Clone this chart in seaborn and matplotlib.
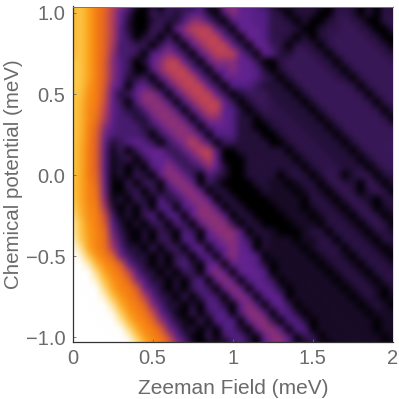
import numpy as np
import seaborn as sns
import matplotlib.pyplot as plt
from matplotlib.colors import LinearSegmentedColormap

# intensity, 0 (black) to 12 (white)
# rows: chemical potential 1.05 to -1.05 in steps of 0.05, cols: field 0 to 2 in steps of 0.05
intensity = [
    [9.5,10,9,8,7.5, 6,5,3,1,0, 1,0,2,2,2, 1,3,0,1,5, 5,4,3,3,2, 1,0,1,1,1, 1,1,0,1,1.5, 1,0,1,0,1.5, 1.5],
    [9.5,10,9,8,7.2, 5.8,4,2,0,0, 2,1,2,1,2, 3,3,1,0,3, 5,4,4,3,3, 1.5,1,0,1,1, 1,0,0,1.5,1.5, 1,0,1,0,1.5, 1],
    [9.5,10,9,8,7.2, 5.8,4,1,0,0, 1,2,1,1,3, 5,5,3,1,0, 3,4,4,3,3, 1.5,1.5,1,0,1, 0,0,1,1.5,2, 1.5,1,0,0,1.5, 1.5],
    [9.5,10,9,8,7.2, 5.8,3,1,0,0, 2,2,0,4,5, 6,6,6,4,2, 0,4,4,4,3, 1.5,1.5,1.5,1,0, 0,1,1.5,1.5,2, 2,1.5,1,0,0, 1.5],
    [9.5,10,9,8,7.2, 5.8,3,2,0,1, 2,0,2,0,4, 5,6,6,6,4, 2,0,4,4,3, 1.5,1.5,1,0,1, 0,1,1.5,2,2, 2,2,1.5,1,0, 0],
    [9.5,10,9,8,7.2, 5.6,2.5,2.5,2,2, 0,2,4,2,0, 4,5,6,6,6, 4,2,0,4,4, 2,1.5,0,1.5,1.5, 1,0,1.5,2,2, 2,2,2,1.5,1, 0],
    [9.5,10,9,8,7.2, 5.2,2.5,2.5,2,0, 3,4,5,4,2, 0,4,5,6,6, 6,4,2,0,4, 3,1,1,2,2, 1.5,1,0,1.5,2, 2,2,2,2,1.5, 1],
    [10,10,9,8,7, 5,3,2,0,1, 4,5,6,6,4, 2,0,4,5,5, 5,4,4,2,0, 0,1.5,2,2,2, 2,1.5,1,0,1.5, 2,2,2,2,2, 1.5],
    [10,10,9,8,7, 5,3,2,0,0, 3,5,6,6,6, 4,2,0,4,4, 5,4,4,3,1, 0,1,2,2,2, 2,2,1.5,1,0, 1.5,2,2,2,2, 2],
    [10,10,9,8,7, 5,3,1,1,2, 0,3,5,6,6, 6,4,2,0,4, 4,4,4,3,2, 1,0,1,2,2, 2,2,2,1.5,1, 0,1.5,2,2,2, 2],
    [10,10,8.7,8,6.8, 4.4,3,0,3,4, 2,0,3,5,6, 6,6,4,2,0, 3,3,3,2,1, 1,1,0,1,2, 2,2,2,2,2, 1.5,0,1.5,2,2, 2],
    [10,9.8,8.5,8,6.6, 4,1,2,4,5, 5,3,0,3,5, 6,6,6,4,2, 0,1,2,2,2, 1,1,1,0,1, 2,2,2,2,2, 2,1.5,0,1.5,2, 2],
    [10,9.7,8.4,8,6.4, 4,2,0,3,5, 5,5,3,0,3, 5,6,6,6,4, 2,0,1,2,2, 1.5,1,1,1,0, 1,2,2,2,2, 2,2,1.5,0,1.5, 2],
    [10,9.6,8.3,7.8,6, 3.8,2.5,1,1,3, 5,5,5,3,0, 3,5,6,6,4, 3,1,0,1,2, 1.5,1.5,1,1,1, 0,1,2,2,2, 2,2,2,1.5,0, 1.5],
    [10,9.6,8.3,7.6,5.8, 3.6,2.5,2.5,1,1, 4,5,5,5,3, 0,3,5,5,4, 3,1,1,0,1, 1.5,1.5,1.5,1,1, 1,0,1,2,2, 2,2,2,2,1.5, 0],
    [10,9.5,8.2,7.3,5, 3.2,2.5,2.5,2.5,1, 2,4,5,5,5, 3,0,3,4,4, 3,1,1,0,0, 1,1.5,1.5,1.5,1, 1,1,0,1,2, 2,2,2,2,2, 1.5],
    [10,9.5,8.1,7.1,4.4, 2.8,2.5,2.5,2.5,2, 0,2,4,5,5, 5,3,0,3,3, 3,1,1,1,0, 0,1,1.5,1.5,1.5, 1,1,1,0,1, 2,2,2,2,2, 2],
    [10,9.4,8.1,7,4, 1,2,3,4,3, 2,0,2,4,5, 6,5,3,0,2, 2,1,1,1,1, 0,0,1,1.5,1.5, 1.5,1,1,1,0, 1,2,2,2,2, 2],
    [10,9.3,8,7,3.6, 0.5,2,0,2,4, 4,4,2,2,4, 5,6,6,3,0, 0,1,1,1,1, 1,1,0,1,1.5, 1.5,1.5,1,1,1, 0,1,2,2,2, 2],
    [10,9.3,8,7,3.6, 0.5,1,2,0,2, 4,4,4,2,2, 4,5,6,4,0, 0,0,1,1,1, 1,1,1,0,1, 1.5,1.5,1.5,1,1, 1,0,1,2,2, 2],
    [10,9.3,8,7,3.6, 0.5,1,0,1,0, 3,4,5,4,2, 2,3,5,4,1, 0,0,1,1,1, 1,1,1,1,0, 1,1.5,1.5,1.5,1, 1,1,0,1,2, 2],
    [10,9.2,8,7.2,4, 0.3,1,0,2,1, 0,4,5,5,4, 2,0,3,2,1, 0,0,1,1,1, 1,0,1,1.5,1, 0,1,2,1.5,0, 1,2,1.5,0,1, 1.5],
    [10,9.2,8.1,7.4,4.2, 0.3,0,2,0,2, 2,0,4,5,5, 4,0,2,1,0, 0,0,0,1,1, 0.7,0.7,0,0.7,1.3, 1,0,1.3,2,1.3, 1,0,2,1.3,0, 1],
    [10,9.2,8.2,7.6,4.4, 0.3,0,1,2,0, 2,0.5,2,4,5, 5,4,0,1,1, 0,0,0,0,1, 0.7,0.7,0.7,0,0.7, 1.3,0.7,0,1.3,2, 1.3,0,1.3,2,1.3, 0],
    [10,9.2,8.2,7.8,4.8, 0.5,1,0,2,1, 0,3,1,2,4, 5,5,4,0,1, 1,0,0,0,0, 0.7,0.7,0.7,0.7,0, 1.3,1.3,0.7,0,1.3, 2,1.3,0.7,0,1.3, 1.3],
    [10.3,9.4,8.3,8,5.5, 1,0,1,0,2, 0,3,3,0,3, 4,5,5,3,0, 1,1,0,0,0, 0,0.7,0.7,0.7,0, 0.7,1.3,1.3,0.7,0, 1.3,2,1.3,0,0.7, 1.3],
    [10.5,9.6,8.4,8.1,6.5, 2.5,0.3,1,0,2, 3,0,3,3,0, 4,5,5,5,3, 0,1,1,0,0, 0,0,0.7,0.7,0.7, 0,0.7,1.3,1.3,0.7, 0,1.3,2,1.3,0, 0.7],
    [11,10,8.6,8.1,7, 3.5,1,0,1,0, 2,2,0,3,2, 0,4,5,5,5, 2,0,1,1,0, 0,0,0,0.7,0.7, 0.7,0,1.3,1.3,1.3, 0.7,0,1.3,2,1.3, 0],
    [11,10,8.8,8.2,7.5, 4.3,1.7,0.5,0,1, 0,2,1,0,3, 2,0,4,5,5, 5,3,0,1,1, 0.7,0,0,0,0.7, 1.3,1.3,0,1.3,1.3, 1.3,0.7,0,1.3,1.3, 0.7],
    [11.4,10.2,8.9,8.2,7.6, 5,2.4,0.6,0,1, 0,2,2,0,3, 3,0,3,4,5, 5,4,2,0,1, 0.7,0.7,0.7,0,0.7, 0.7,1.3,1.3,0,1.3, 1.3,1.3,0.7,0,1.3, 1.3],
    [11.8,10.8,9,8.2,7.7, 5.6,3,1,1,0, 2,0,2,2,0, 3,4,0,3,4, 5,4,3,0,1, 0.7,0.7,0.7,0.7,0, 0.7,1.3,1.3,1.3,0, 1.3,1.3,1.3,0.7,0, 0.7],
    [12,11.6,10,8.6,8, 7.2,4.2,2.3,1,1, 0,1,0,2,2, 0,3,3,0,4, 5,4,4,3,0, 0.7,0.7,0.7,0.7,0.7, 0,0.7,1.3,1.3,0.7, 0,1.3,1.3,1.3,0.7, 0],
    [12,12,11.1,9.5,8.4, 8,7,4,2.1,1, 0,1,0,2,3, 1,0,4,4,0, 4,4,4,3,1, 0,0.7,0.7,0.7,0.7, 0.7,0,0.7,1.3,1.3, 0.7,0,1.3,1.3,1.3, 0.7],
    [12,12,12,10.5,9, 8.2,7.8,6.2,3.5,1.5, 1,0,1,0,2, 2,0,4,5,4, 0,4,4,4,3, 0,0.7,0.7,0.7,0.7, 0.7,0.7,0,0.7,1.3, 1.3,0.7,0,1.3,1.3, 1.3],
    [12,12,12,11.3,9.8, 8.6,8.1,7.4,5,3, 1,1,0,1,0, 2,3,0,4,5, 4,0,3,4,3, 2,0,0.7,0.7,0.7, 0.7,0.7,0.7,0,0.7, 1.3,1.3,0.7,0,1.3, 1.3],
    [12,12,12,12,10.5, 9,8.2,8,7,4.2, 2.5,1,0,1,0, 2,3,2,0,4, 5,4,0,3,4, 3,1,0,0.7,0.7, 0.7,0.7,0.7,0.7,0, 0.7,1.3,1.3,0.7,0, 1.3],
    [12,12,12,12,11.3, 9.9,8.7,8.1,7.6,5.9, 3.6,1.7,1,0,2, 0,2,3,2,0, 4,5,4,0,3, 4,3,0,0.7,0.7, 0.7,0.7,0.7,0.7,0.7, 0,0.7,1.3,0.7,0, 0.7],
    [12,12,12,12,12, 10.8,9.3,8.4,8,7.2, 4.8,2.8,0.9,1,0, 1,0,3,3,1, 0,4,5,3,0, 3,4,2,0,0.7, 0.7,0.7,0.7,0.7,0.7, 0.7,0,0.7,1.3,0.7, 0],
    [12,12,12,12,12, 11.7,10.2,8.8,8.2,7.8, 6.4,3.9,2.1,0.5,0, 2,0,2,3,3, 0,3,5,5,3, 0,3,3,1,0, 0.7,0.7,0.7,0.7,0.7, 0.7,0.7,0,0.7,0.7, 0.7],
    [12,12,12,12,12, 12,11,9.6,8.5,8.1, 7.4,5.3,3.2,1.3,0.5, 0,2,0,3,3, 3,0,4,5,5, 2,0,3,3,1, 0,0.7,0.7,0.7,0.7, 0.7,0.7,0.7,0,0.7, 0.7],
    [12,12,12,12,12, 12,12,10.6,9.2,8.3, 8,7.1,4.5,2.7,0.7, 1,0,1,0,3, 3,1,0,4,5, 5,3,0,3,3, 0,0.7,0.7,0.7,0.7, 0.7,0.7,0.7,0,0.7, 0.7],
    [12,12,12,12,12, 12,12,11.7,10.2,8.8, 8.2,7.8,6.4,3.9,2.1, 0.2,0,2,0,2, 3,3,1,0,4, 5,5,3,0,2, 2,0,0.7,0.7,0.7, 0.7,0.7,0.7,0.7,0, 0.7],
    [12,12,12,12,12, 12,12,12,11.2,9.8, 8.6,8.1,7.5,5.6,3.4, 1.5,0,0,2,0, 2,3,2,0,3, 5,5,4,1,0, 2,1,0,0.7,0.7, 0.7,0.7,0.7,0.7,0.7, 0],
]
field_ticks = [0, 0.5, 1, 1.5, 2]
field_labels = ['0', '0.5', '1', '1.5', '2']
mu_ticks = [1.0, 0.5, 0.0, -0.5, -1.0]
mu_labels = ['1.0', '0.5', '0.0', '\u22120.5', '\u22121.0']

step = 0.05
mu_top = 1.05

# black, purple, red, orange, yellow, white
colors = ['#000000', '#24103a', '#3a1858', '#541f84', '#63238f', '#8a3078', '#bc4258',
          '#dd5e2c', '#f67d12', '#fca31c', '#fdc645', '#fee9a8', '#ffffff']
cmap = LinearSegmentedColormap.from_list('field', colors, N=256)


def soften(im, dpi):
    # the reference has no visible cell structure, blur the drawn mesh a little
    pad = 8
    kernel = np.exp(-0.5 * (np.arange(-pad, pad + 1) / 2.2) ** 2)
    kernel = kernel / kernel.sum()
    out = np.pad(im, ((pad, pad), (pad, pad), (0, 0)), mode='edge')
    for axis in [0, 1]:
        out = np.apply_along_axis(lambda v: np.convolve(v, kernel, mode='same'), axis, out)
    return out[pad:-pad, pad:-pad], 0, 0


plt.rcParams['font.family'] = ['Liberation Sans', 'DejaVu Sans']
gray = '#6a6a6a'

fig = plt.figure(figsize=(3.99, 3.99), dpi=100)
ax = fig.add_axes([72.5 / 399, 1 - 342 / 399, 320.5 / 399, 335.5 / 399])

sns.heatmap(np.array(intensity, dtype=float), cmap=cmap, vmin=0, vmax=12, cbar=False,
            xticklabels=False, yticklabels=False, shading='gouraud', ax=ax)
ax.collections[0].set_agg_filter(soften)

# the mesh lives in cell numbers, so convert the axis values to them
ax.set_xlim(0, 2 / step)
ax.set_ylim((mu_top + 1.03) / step, (mu_top - 1.04) / step)
ax.set_xticks([t / step for t in field_ticks])
ax.set_xticklabels(field_labels)
ax.set_yticks([(mu_top - t) / step for t in mu_ticks])
ax.set_yticklabels(mu_labels)
ax.tick_params(axis='both', labelsize=14.5, colors=gray, labelcolor=gray, length=2, width=0.6, direction='in', pad=5)
ax.set_xlabel('Zeeman Field (meV)', fontsize=15, color=gray, labelpad=8)
ax.set_ylabel('Chemical potential (meV)', fontsize=14.8, color=gray, labelpad=2)

for side in ['left', 'bottom']:
    ax.spines[side].set_visible(True)
    ax.spines[side].set_color('#333333')
    ax.spines[side].set_linewidth(0.9)
ax.spines['top'].set_visible(True)
ax.spines['top'].set_color('#777777')
ax.spines['top'].set_linewidth(0.7)
ax.spines['right'].set_visible(True)
ax.spines['right'].set_color('#dddddd')
ax.spines['right'].set_linewidth(0.7)

fig.savefig('out.png', dpi=100)
